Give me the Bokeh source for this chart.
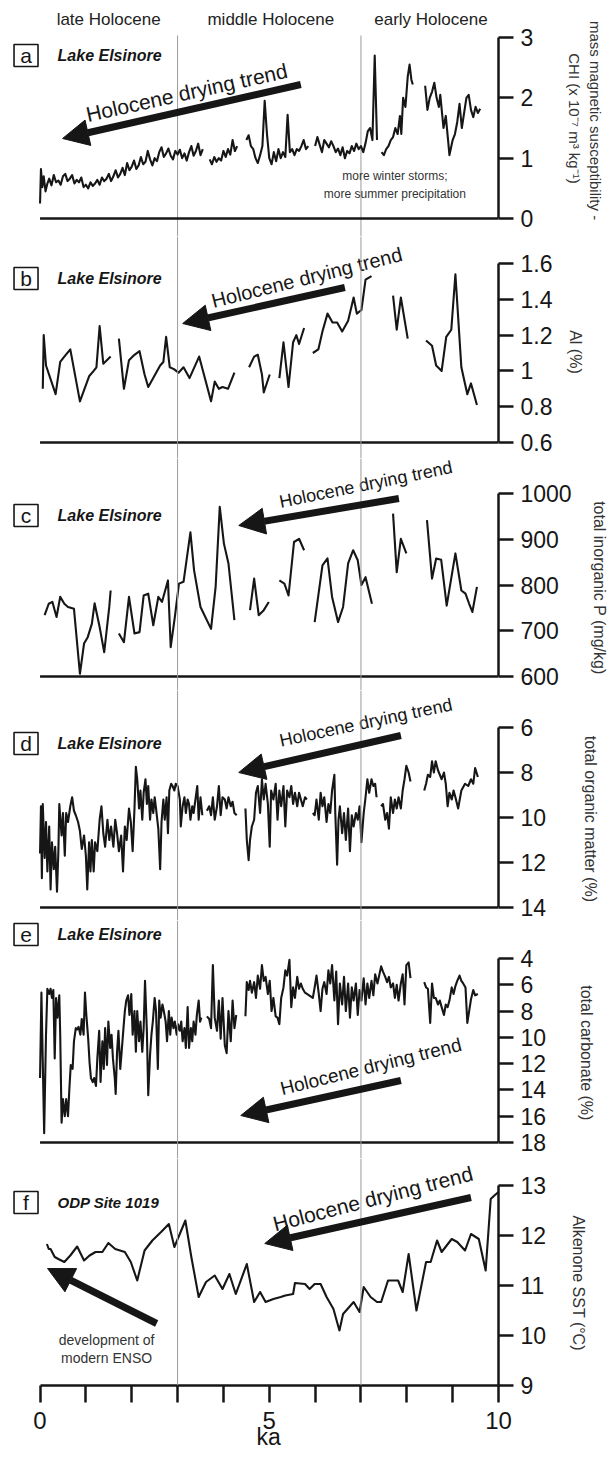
import math
from bokeh.plotting import figure
from bokeh.models import Range1d, FixedTicker, Span, Arrow, NormalHead, CustomJSTickFormatter
from bokeh.layouts import column
from bokeh.embed import file_html
from bokeh.resources import INLINE
from bokeh.core.properties import value

nan = float("nan")
NBSP = "\u00a0"

# ---------------- data (ka BP) ----------------
periods = ["late Holocene", "middle Holocene", "early Holocene"]
period_bounds = [3, 7]
ka_ticks = [0, 1, 2, 3, 4, 5, 6, 7, 8, 9, 10]

chi_ka = [0.0, 0.02, 0.05, 0.08, 0.12, 0.16, 0.2, 0.25, 0.3, 0.35, 0.4, 0.45, 0.5, 0.55, 0.6, 0.65, 0.7, 0.75,
          0.8, 0.85, 0.9, 0.95, 1.0, 1.05, 1.1, 1.15, 1.2, 1.25, 1.3, 1.35, 1.4, 1.45, 1.5, 1.55, 1.6, 1.65,
          1.7, 1.75, 1.8, 1.85, 1.9, 1.95, 2.0, 2.05, 2.1, 2.15, 2.2, 2.25, 2.3, 2.35, 2.4, 2.45, 2.5, 2.55,
          2.6, 2.65, 2.7, 2.75, 2.8, 2.85, 2.9, 2.95, 3.0, 3.05, 3.1, 3.15, 3.2, 3.25, 3.3, 3.35, 3.4, 3.45,
          3.5, 3.55, nan,
          3.7, 3.75, 3.8, 3.85, 3.9, 3.95, 4.0, 4.05, 4.1, 4.15, 4.2, 4.25, 4.3, nan,
          4.5, 4.55, 4.6, 4.65, 4.7, 4.75, 4.8, 4.85, 4.9, 4.95, 5.0, 5.05, 5.1, 5.15, 5.2, 5.25, 5.3, 5.35,
          5.4, 5.45, 5.5, 5.55, 5.6, 5.65, 5.7, 5.75, 5.8, 5.85, nan,
          6.0, 6.05, 6.1, 6.15, 6.2, 6.25, 6.3, 6.35, 6.4, 6.45, 6.5, 6.55, 6.6, 6.65, 6.7, 6.75, 6.8, 6.85,
          6.9, 6.95, 7.0, 7.05, 7.1, 7.15, 7.2, 7.25, 7.3, 7.35, nan,
          7.45, 7.5, 7.55, 7.6, 7.65, 7.7, 7.75, 7.8, 7.85, 7.88, 7.92, 7.97, 8.02, 8.06, 8.1, 8.13, nan,
          8.4, 8.45, 8.5, 8.55, 8.6, 8.65, 8.7, 8.73, 8.8, 8.85, 8.9, 8.93, 9.0, 9.05, 9.1, 9.15, 9.2, 9.25,
          9.3, 9.35, 9.4, 9.45, 9.5, 9.55, 9.6]
chi = [0.25, 0.82, 0.52, 0.7, 0.45, 0.58, 0.66, 0.55, 0.72, 0.6, 0.63, 0.56, 0.7, 0.74, 0.62, 0.66, 0.72, 0.58,
       0.64, 0.6, 0.68, 0.52, 0.56, 0.5, 0.6, 0.54, 0.58, 0.64, 0.56, 0.68, 0.62, 0.66, 0.74, 0.62, 0.7, 0.8,
       0.68, 0.74, 0.84, 0.72, 0.92, 0.8, 0.86, 0.96, 0.82, 0.88, 1.02, 0.9, 0.94, 1.12, 0.98, 0.88, 1.0, 0.95,
       1.1, 1.18, 1.02, 1.08, 1.16, 1.04, 0.98, 1.12, 1.06, 1.14, 1.0, 1.08, 0.96, 1.1, 1.2, 1.04, 1.12, 1.24,
       1.05, 1.15, nan,
       0.98, 0.9, 1.02, 0.94, 1.0, 0.96, 1.12, 1.02, 1.15, 1.06, 1.3, 1.12, 1.2, nan,
       1.3, 1.38, 1.2, 1.15, 1.0, 0.92, 1.05, 1.2, 1.95, 1.4, 1.0, 0.9, 1.1, 0.95, 1.15, 1.0, 1.1, 1.02,
       1.72, 1.1, 1.15, 1.05, 1.15, 1.12, 1.2, 1.3, 1.15, 1.2, nan,
       1.2, 1.35, 1.22, 1.1, 1.3, 1.24, 1.18, 1.28, 1.2, 1.1, 1.16, 1.05, 1.18, 1.0, 1.12, 1.08, 1.2, 1.12,
       1.24, 1.15, 1.2, 1.1, 1.25, 1.45, 1.5, 1.3, 2.7, 1.3, nan,
       1.1, 1.05, 1.15, 1.2, 1.3, 1.35, 1.5, 1.4, 1.7, 1.4, 2.0, 1.85, 2.35, 2.55, 2.3, 2.22, nan,
       2.2, 1.8, 2.0, 2.1, 2.25, 2.0, 1.85, 2.05, 1.5, 1.7, 1.3, 1.05, 1.3, 1.4, 1.6, 1.9, 1.5, 1.75,
       2.0, 2.05, 1.8, 1.68, 1.85, 1.75, 1.82]

al_ka = [0.06, 0.08, 0.13, 0.34, 0.44, 0.53, 0.66, 0.87, 1.07, 1.17, 1.23, 1.3, 1.38, 1.54, nan,
         1.72, 1.83, 1.94, 2.06, 2.17, 2.28, 2.36, 2.49, 2.62, 2.69, 2.75, 2.83, 2.92, 3.02, 3.13, 3.26,
         3.47, 3.73, 3.81, 3.9, 3.98, 4.1, 4.24, nan,
         4.56, 4.67, 4.75, 4.84, 4.88, 5.01, nan,
         5.22, 5.31, 5.42, 5.52, 5.59, 5.65, 5.76, nan,
         5.95, 6.07, 6.16, 6.27, 6.38, 6.48, 6.59, 6.72, 6.84, 6.91, 7.01, 7.1, 7.23, nan,
         7.7, 7.78, 7.87, 8.02, nan,
         8.42, 8.55, 8.64, 8.76, 8.86, 8.97, 9.06, 9.19, 9.32, 9.4, 9.53]
al = [0.9, 1.2, 1.03, 0.87, 1.05, 1.08, 1.12, 0.83, 0.97, 1.0, 1.02, 1.25, 1.04, 1.08, nan,
      1.18, 0.9, 1.06, 1.09, 1.11, 0.98, 0.91, 0.97, 1.03, 1.05, 1.19, 1.02, 1.01, 0.99, 1.02, 0.96,
      1.08, 0.83, 0.94, 0.9, 0.91, 0.9, 0.99, nan,
      1.02, 1.08, 1.09, 0.98, 0.88, 0.98, nan,
      0.96, 1.16, 0.91, 1.16, 1.2, 1.15, 1.24, nan,
      1.1, 1.12, 1.22, 1.32, 1.27, 1.27, 1.22, 1.28, 1.41, 1.32, 1.34, 1.51, 1.53, nan,
      1.42, 1.23, 1.41, 1.18, nan,
      1.17, 1.14, 1.03, 1.0, 1.19, 1.23, 1.54, 1.02, 0.87, 0.93, 0.81]

tip_ka = [0.1, 0.19, 0.27, 0.36, 0.44, 0.53, 0.61, 0.74, 0.87, 0.96, 1.04, 1.13, 1.19, 1.3, 1.4, 1.51, 1.54, nan,
          1.72, 1.83, 1.94, 2.06, 2.17, 2.26, 2.36, 2.47, 2.58, 2.66, 2.79, 2.85, 2.94, 3.03, 3.13, 3.28,
          3.36, 3.5, 3.73, 3.83, 3.92, 4.01, 4.11, 4.24, nan,
          4.58, 4.67, 4.77, 4.88, 4.99, nan,
          5.22, 5.33, 5.42, 5.54, 5.65, 5.76, nan,
          5.99, 6.16, 6.27, 6.37, 6.5, 6.61, 6.72, 6.83, 6.93, 7.01, 7.1, 7.24, nan,
          7.7, 7.78, 7.87, 7.99, nan,
          8.44, 8.55, 8.64, 8.75, 8.87, 9.06, 9.19, 9.28, 9.36, 9.43, 9.53]
tip = [734, 759, 763, 730, 774, 759, 752, 748, 606, 672, 686, 715, 760, 708, 653, 752, 788, nan,
       694, 675, 774, 694, 697, 777, 781, 712, 774, 763, 810, 664, 730, 803, 807, 915,
       832, 752, 704, 796, 971, 891, 847, 723, nan,
       745, 814, 734, 745, 763, nan,
       810, 803, 777, 894, 901, 876, nan,
       719, 843, 858, 774, 719, 752, 847, 876, 854, 800, 817, 759, nan,
       956, 828, 901, 869, nan,
       942, 814, 858, 855, 755, 869, 788, 781, 759, 741, 796]

tom_ka = [0.0, 0.02, 0.04, 0.06, 0.1, 0.13, 0.16, 0.2, 0.23, 0.26, 0.3, 0.33, 0.37, 0.4, 0.42, 0.47, 0.5, 0.54,
          0.57, 0.61, 0.66, 0.7, 0.74, 0.78, 0.83, 0.87, 0.91, 0.96, 1.0, 1.03, 1.07, 1.1, 1.13, 1.17, 1.2,
          1.25, 1.3, 1.34, 1.38, 1.42, 1.47, 1.51, 1.55, 1.6, 1.64, 1.68, 1.72, 1.77, 1.81, 1.85, 1.89, 1.94,
          1.98, 2.02, 2.06, 2.09, 2.12, 2.16, 2.19, 2.23, 2.26, 2.3, 2.33, 2.36, 2.4, 2.43, 2.47, 2.5, 2.53,
          2.58, 2.62, 2.65, 2.69, 2.72, 2.76, 2.79, 2.82, 2.86, 2.89, 2.93, 2.96, 3.0, 3.05, 3.07, 3.11, 3.15,
          3.18, 3.22, 3.25, 3.28, 3.32, 3.35, 3.39, 3.43, 3.46, 3.5, 3.54, nan,
          3.64, 3.69, 3.73, 3.77, 3.81, 3.86, 3.9, 3.94, 3.98, 4.03, 4.07, 4.11, 4.16, 4.2, 4.24, 4.29, nan,
          4.48, 4.51, 4.55, 4.58, 4.62, 4.67, 4.71, 4.75, 4.8, 4.84, 4.88, 4.92, 4.97, 5.01, 5.04, 5.09,
          5.14, 5.18, 5.22, 5.26, 5.31, 5.35, 5.39, 5.44, 5.48, 5.52, 5.56, 5.61, 5.65, 5.69, 5.73, 5.78,
          5.82, nan,
          5.95, 5.99, 6.03, 6.08, 6.12, 6.16, 6.2, 6.25, 6.29, 6.33, 6.37, 6.42, 6.44, 6.48, 6.51, 6.54,
          6.59, 6.63, 6.67, 6.72, 6.76, 6.8, 6.84, 6.89, 6.93, 6.97, 7.01, 7.06, 7.1, 7.14, 7.18, 7.23,
          7.27, 7.31, 7.34, nan,
          7.44, 7.48, 7.53, 7.57, 7.61, 7.65, 7.7, 7.74, 7.78, 7.82, 7.87, 7.91, 7.95, 7.99, 8.04, 8.08, nan,
          8.38, 8.42, 8.46, 8.51, 8.55, 8.59, 8.63, 8.68, 8.72, 8.76, 8.81, 8.85, 8.89, 8.93, 8.98, 9.02,
          9.06, 9.12, 9.19, 9.27, 9.34, 9.4, 9.45, 9.49, 9.55]
tom = [11.6, 9.5, 12.7, 9.4, 11.8, 10.2, 12.4, 10.4, 13.2, 11.1, 12.3, 11.3, 13.3, 11.5, 9.4, 10.8, 9.8, 11.7,
       9.8, 10.2, 9.5, 9.1, 9.7, 9.9, 10.2, 10.6, 11.4, 10.8, 11.7, 13.2, 11.1, 12.4, 11.0, 12.4, 11.1,
       11.5, 10.1, 9.5, 10.7, 11.3, 10.1, 11.0, 10.4, 11.3, 10.1, 10.7, 11.5, 10.8, 12.4, 10.4, 11.0, 9.6,
       10.2, 11.5, 9.6, 7.75, 8.3, 9.6, 8.8, 10.1, 8.9, 8.3, 9.4, 8.6, 10.1, 9.2, 9.8, 9.1, 9.6,
       10.5, 12.3, 10.2, 9.2, 10.1, 9.1, 10.7, 8.8, 8.5, 8.6, 8.8, 8.5, 8.6, 9.2, 10.4, 9.5, 9.1,
       9.8, 9.2, 9.4, 10.1, 9.5, 9.8, 9.2, 8.6, 10.1, 9.1, 9.9, nan,
       9.7, 9.5, 9.9, 9.1, 10.1, 9.5, 8.6, 9.9, 9.1, 9.2, 9.6, 9.1, 9.5, 9.3, 9.8, 9.9, nan,
       9.6, 11.0, 11.9, 11.0, 10.4, 10.1, 8.9, 8.6, 9.8, 8.3, 9.2, 8.5, 9.4, 11.3, 8.8, 9.2,
       8.5, 10.1, 8.8, 9.5, 8.6, 10.4, 8.8, 9.1, 8.6, 9.4, 8.9, 9.5, 8.9, 9.2, 9.5, 9.1,
       9.2, nan,
       9.8, 9.9, 9.2, 10.1, 8.9, 9.5, 9.1, 10.2, 9.4, 9.8, 8.8, 8.1, 9.8, 12.1, 10.1, 9.5,
       10.7, 9.8, 11.0, 9.6, 11.5, 9.9, 10.4, 9.8, 10.1, 9.5, 11.1, 9.8, 9.1, 8.3, 8.9, 8.3,
       8.6, 8.5, 9.1, nan,
       9.5, 9.4, 10.1, 9.8, 10.5, 9.1, 9.8, 9.2, 9.6, 9.1, 9.6, 8.8, 8.3, 7.7, 8.0, 8.4, nan,
       8.8, 8.5, 8.1, 8.2, 7.5, 8.0, 7.5, 7.9, 8.1, 8.3, 8.0, 8.5, 9.5, 8.9, 9.2, 8.8,
       9.1, 9.6, 8.8, 8.5, 8.6, 8.3, 8.5, 7.8, 8.2]

carb_ka = [0.0, 0.03, 0.09, 0.13, 0.16, 0.2, 0.23, 0.26, 0.29, 0.32, 0.35, 0.38, 0.42, 0.44, 0.47, 0.5, 0.54,
           0.57, 0.61, 0.64, 0.67, 0.71, 0.74, 0.78, 0.81, 0.84, 0.88, 0.91, 0.95, 0.98, 1.01, 1.05, 1.08,
           1.11, 1.15, 1.18, 1.22, 1.25, 1.29, 1.32, 1.36, 1.39, 1.42, 1.46, 1.49, 1.53, 1.56, 1.59, 1.63,
           1.65, 1.68, 1.71, 1.75, 1.78, 1.82, 1.85, 1.88, 1.92, 1.95, 1.99, 2.02, 2.06, 2.09, 2.12, 2.16,
           2.19, 2.23, 2.26, 2.29, 2.33, 2.36, 2.4, 2.43, 2.46, 2.5, 2.53, 2.57, 2.6, 2.63, 2.67, 2.7, 2.74,
           2.77, 2.81, 2.84, 2.87, 2.91, 2.94, 2.98, 3.01, 3.05, 3.08, 3.11, 3.15, 3.18, 3.22, 3.25, 3.29,
           3.32, 3.35, 3.39, 3.42, 3.46, 3.49, 3.52, nan,
           3.64, 3.69, 3.73, 3.77, 3.81, 3.86, 3.9, 3.94, 3.98, 4.03, 4.07, 4.11, 4.16, 4.2, 4.24, 4.28, nan,
           4.48, 4.51, 4.55, 4.58, 4.62, 4.67, 4.71, 4.75, 4.8, 4.84, 4.88, 4.92, 4.97, 5.01, 5.05, 5.09,
           5.14, 5.18, 5.22, 5.26, 5.31, 5.35, 5.39, 5.44, 5.48, 5.52, 5.56, 5.61, 5.65, 5.69, 5.73, 5.78,
           5.95, 5.99, 6.03, 6.08, 6.12, 6.16, 6.2, 6.25, 6.29, 6.33, 6.37, 6.42, 6.46, 6.5, 6.54, 6.59,
           6.63, 6.67, 6.72, 6.76, 6.8, 6.84, 6.89, 6.93, 6.97, 7.01, 7.06, 7.1, 7.14, 7.18, 7.23, 7.27,
           7.31, 7.36, 7.44, 7.48, 7.53, 7.57, 7.61, 7.65, 7.7, 7.74, 7.78, 7.82, 7.87, 7.91, 7.95, 7.99,
           8.04, 8.08, nan,
           8.38, 8.42, 8.46, 8.51, 8.55, 8.59, 8.63, 8.68, 8.72, 8.76, 8.81, 8.85, 8.89, 8.93, 8.98, 9.02,
           9.06, 9.1, 9.15, 9.19, 9.23, 9.28, 9.32, 9.36, 9.4, 9.45, 9.49, 9.55]
carb = [13.1, 6.6, 17.3, 9.8, 6.3, 6.7, 6.3, 7.0, 6.4, 11.6, 7.0, 8.5, 6.8, 9.8, 16.5, 14.7, 16.0,
        14.7, 16.0, 13.9, 12.1, 12.4, 10.3, 9.3, 9.4, 9.2, 9.8, 8.6, 9.8, 6.6, 8.3, 10.1, 11.9,
        13.1, 13.4, 13.1, 13.7, 11.6, 9.5, 13.4, 10.3, 12.4, 9.3, 12.1, 8.8, 10.8, 9.8, 11.6, 13.1,
        14.3, 11.1, 9.5, 12.4, 11.1, 9.3, 8.0, 7.2, 6.8, 8.3, 6.7, 9.8, 8.0, 11.1, 8.0, 10.3,
        8.8, 11.1, 9.3, 5.7, 9.5, 14.4, 11.3, 9.8, 8.8, 7.0, 8.0, 12.4, 7.2, 8.5, 7.5, 8.0, 8.8,
        10.3, 8.0, 9.8, 8.5, 9.3, 8.8, 9.8, 9.0, 9.5, 8.8, 10.3, 9.3, 10.8, 7.7, 10.8, 9.3,
        10.3, 8.8, 9.8, 8.3, 7.2, 8.8, 8.5, nan,
        8.4, 8.6, 9.3, 4.5, 8.5, 9.5, 7.2, 10.1, 7.0, 10.6, 11.2, 8.0, 10.3, 7.2, 9.3, 8.3, nan,
        8.4, 5.8, 6.4, 5.7, 6.6, 5.8, 7.0, 5.3, 6.3, 4.5, 5.7, 5.4, 6.7, 5.7, 8.0, 7.0,
        8.4, 8.5, 9.0, 7.0, 6.2, 4.9, 5.3, 4.1, 7.7, 6.2, 7.0, 5.4, 6.3, 5.9, 6.3, 6.6,
        7.0, 6.2, 5.3, 6.7, 8.0, 6.3, 5.8, 6.7, 4.9, 5.9, 4.5, 7.2, 5.0, 9.0, 5.9, 7.5,
        5.4, 8.0, 5.9, 8.5, 6.2, 7.2, 5.9, 8.3, 6.4, 7.2, 5.5, 7.5, 5.9, 7.0, 5.7, 6.8,
        5.2, 5.9, 4.6, 5.0, 5.4, 5.8, 5.4, 6.2, 5.9, 7.0, 6.0, 7.2, 5.9, 5.2, 7.5, 4.5,
        4.3, 5.5, nan,
        5.8, 6.2, 6.3, 8.9, 5.9, 7.0, 7.0, 7.5, 7.2, 7.7, 8.3, 7.5, 7.7, 7.2, 6.2, 6.7,
        6.1, 5.7, 5.3, 5.7, 5.9, 6.2, 8.9, 8.0, 7.1, 6.4, 6.8, 6.7]

sst_ka = [0.15, 0.19, 0.23, 0.32, 0.4, 0.53, 0.66, 0.81, 0.96, 1.08, 1.21, 1.36, 1.49, 1.64, 1.85, 1.98,
          2.12, 2.28, 2.45, 2.64, 2.81, 2.93, 3.17, 3.3, 3.46, 3.62, 3.81, 3.98, 4.13, 4.27, 4.51, 4.67,
          4.8, 4.92, 5.09, 5.25, 5.35, 5.52, 5.56, 5.78, 5.88, 5.99, 6.12, 6.25, 6.4, 6.53, 6.61, 6.84,
          6.97, 7.06, 7.21, 7.35, 7.44, 7.59, 7.81, 7.91, 8.04, 8.21, 8.42, 8.52, 8.66, 8.76, 8.98, 9.1,
          9.27, 9.4, 9.57, 9.72, 9.83, 9.91, 10.0]
sst = [11.83, 11.73, 11.73, 11.57, 11.53, 11.47, 11.6, 11.78, 11.5, 11.6, 11.67, 11.67, 11.85, 11.73, 11.67,
       11.47, 11.1, 11.7, 11.9, 12.07, 12.23, 11.77, 12.3, 11.57, 10.77, 11.07, 11.2, 10.93, 11.23, 10.83,
       11.43, 10.67, 10.87, 10.67, 10.73, 10.77, 10.8, 10.83, 11.05, 11.03, 10.93, 11.03, 11.03, 10.77,
       10.53, 10.1, 10.43, 10.67, 10.47, 10.97, 10.77, 10.67, 10.67, 11.1, 11.1, 10.87, 11.63, 10.5,
       11.47, 11.47, 11.9, 11.67, 11.93, 11.87, 11.7, 12.03, 11.93, 11.3, 12.73, 12.8, 12.87]

# ---------------- panel layout (page pixels; the bokeh page has no margin) ----------------
X0, PXK = 39.5, 45.8          # page x of 0 ka, pixels per ka
FRAME_W = 498
XR = (-X0 / PXK, 10.0)

panels = [
    dict(key="a", x=chi_ka, y=chi, lo=0, hi=3, plo=218, phi=37, top=0, bot=236,
         ticks=[0, 1, 2, 3], label="mass magnetic susceptibility -\nCHI (x 10\u207b\u2077 m\u00b3 kg\u207b\u00b9)",
         lab_off=30, lab_fs="15px", pad=1, site="Lake Elsinore"),
    dict(key="b", x=al_ka, y=al, lo=0.6, hi=1.6, plo=442, phi=263, top=236, bot=458,
         ticks=[0.6, 0.8, 1.0, 1.2, 1.4, 1.6], label="Al (%)", lab_off=12, lab_fs="16px", pad=2,
         site="Lake Elsinore"),
    dict(key="c", x=tip_ka, y=tip, lo=600, hi=1000, plo=676, phi=493, top=458, bot=690,
         ticks=[600, 700, 800, 900, 1000], label="total inorganic P (mg/kg)", lab_off=16, lab_fs="16px", pad=6,
         site="Lake Elsinore"),
    dict(key="d", x=tom_ka, y=tom, lo=14, hi=6, plo=907, phi=727, top=690, bot=920,
         ticks=[6, 8, 10, 12, 14], label="total organic matter (%)", lab_off=33, lab_fs="16px", pad=6,
         site="Lake Elsinore"),
    dict(key="e", x=carb_ka, y=carb, lo=18, hi=4, plo=1142, phi=958, top=920, bot=1158,
         ticks=[4, 6, 8, 10, 12, 14, 16, 18], label="total carbonate (%)", lab_off=29, lab_fs="16px", pad=6,
         site="Lake Elsinore"),
    dict(key="f", x=sst_ka, y=sst, lo=9, hi=13, plo=1385, phi=1185, top=1158, bot=1385,
         ticks=[9, 10, 11, 12, 13], label="Alkenone SST (\u00b0C)", lab_off=21, lab_fs="16px", pad=5,
         site="ODP Site 1019"),
]


def val(P, py):
    return P["lo"] + (py - P["plo"]) * (P["hi"] - P["lo"]) / (P["phi"] - P["plo"])


def ka(px):
    return (px - X0) / PXK


FONT = value("Liberation Sans")
INK = "#161616"

# annotations per panel: text centre px, angle deg, font, arrow tail px, arrow head px
trend = {
    "a": ((186, 92), 12.5, "21px", (300, 84), (62, 138)),
    "b": ((306, 277), 14, "20px", (344, 287), (182, 323)),
    "c": ((365, 484), 11.5, "18px", (398, 498), (238, 525)),
    "d": ((365, 722), 12, "18px", (400, 735), (238, 772)),
    "e": ((370, 1066), 14, "19px", (400, 1080), (240, 1115)),
    "f": ((372, 1198), 14.5, "21px", (470, 1197), (264, 1243)),
}
box_py = {"a": 55, "b": 278, "c": 515, "d": 743, "e": 934, "f": 1202}


def style_fig(p):
    p.grid.visible = False
    p.outline_line_color = None
    p.background_fill_color = "white"
    p.border_fill_color = "white"


def head():
    return NormalHead(size=26, fill_color=INK, line_color=INK, line_width=1)


figs = []
for P in panels:
    k = P["key"]
    last = k == "f"
    fh = P["bot"] - P["top"]
    p = figure(frame_width=FRAME_W, frame_height=fh, output_backend="svg", toolbar_location=None,
               x_range=Range1d(*XR), y_range=Range1d(val(P, P["bot"]), val(P, P["top"])),
               y_axis_location="right", x_axis_location="below" if last else None,
               min_border_left=0, min_border_right=0, min_border_top=0, min_border_bottom=0,
               title=None)
    style_fig(p)

    # period boundaries
    if k == "a":
        for b in period_bounds:
            p.segment(x0=b, y0=val(P, 35), x1=b, y1=val(P, P["bot"]), line_color="#9a9a9a", line_width=1)
        for name, cx in zip(periods, [108, 270, 430]):
            p.text(x=[ka(cx)], y=[val(P, 19)], text=[name], text_font=FONT, text_font_size="17px",
                   text_color="#222222", text_align="center", text_baseline="middle")
    else:
        for b in period_bounds:
            p.add_layout(Span(location=b, dimension="height", line_color="#9a9a9a", line_width=1))

    # baseline (the time axis itself closes the last panel)
    if not last:
        p.line(x=[0, 10], y=[P["lo"], P["lo"]], line_color=INK, line_width=2.5)

    # series
    p.line(x=P["x"], y=P["y"], line_color=INK, line_width=2.1, line_join="round")

    # trend text + arrow
    (tx, ty), ang, fs, (ax0, ay0), (ax1, ay1) = trend[k]
    p.text(x=[ka(tx)], y=[val(P, ty)], text=["Holocene drying trend"], angle=math.radians(ang),
           text_font=FONT, text_font_size=fs, text_color=INK, text_align="center", text_baseline="middle")
    p.add_layout(Arrow(end=head(), x_start=ka(ax0), y_start=val(P, ay0), x_end=ka(ax1), y_end=val(P, ay1),
                       line_color=INK, line_width=7))

    # panel letter box + site name
    by = val(P, box_py[k])
    p.rect(x=[ka(25.5)], y=[by], width=24, height=22, width_units="screen", height_units="screen",
           fill_color="white", line_color=INK, line_width=1.6)
    p.text(x=[ka(25.5)], y=[by], text=[k], text_font=FONT, text_font_size="21px", text_color=INK,
           text_align="center", text_baseline="middle")
    p.text(x=[ka(57)], y=[by], text=[P["site"]], text_font=FONT,
           text_font_size="15px" if last else "16px", text_font_style="bold italic", text_color=INK,
           text_align="left", text_baseline="middle")

    if k == "a":
        p.text(x=[ka(394), ka(394)], y=[val(P, 175), val(P, 193)],
               text=["more winter storms;", "more summer precipitation"], text_font=FONT,
               text_font_size="12px", text_color="#333333", text_align="center", text_baseline="middle")
    if last:
        p.add_layout(Arrow(end=head(), x_start=ka(156), y_start=val(P, 1323), x_end=ka(47), y_end=val(P, 1268),
                           line_color=INK, line_width=7))
        p.text(x=[ka(106), ka(106)], y=[val(P, 1339), val(P, 1357)],
               text=["development of", "modern ENSO"], text_font=FONT, text_font_size="14px",
               text_color="#333333", text_align="center", text_baseline="middle")

    # right axis
    ax = p.yaxis[0]
    ax.ticker = FixedTicker(ticks=P["ticks"])
    ax.formatter = CustomJSTickFormatter(code="return String(+tick.toFixed(2));")
    ax.bounds = (min(P["lo"], P["hi"]), max(P["lo"], P["hi"]))
    ax.axis_line_width = 2.5
    ax.axis_line_color = INK
    ax.major_tick_line_width = 2.5
    ax.major_tick_line_color = INK
    ax.major_tick_out = 15
    ax.major_tick_in = 0
    ax.minor_tick_line_color = None
    ax.major_label_text_font = "Liberation Sans"
    ax.major_label_text_font_size = "23px"
    ax.major_label_text_color = INK
    ax.major_label_standoff = 7
    ax.major_label_orientation = "horizontal"
    ax.axis_label = NBSP * P["pad"] + P["label"]
    ax.axis_label_text_font = "Liberation Sans"
    ax.axis_label_text_font_size = P["lab_fs"]
    ax.axis_label_text_font_style = "normal"
    ax.axis_label_text_color = "#333333"
    ax.axis_label_standoff = P["lab_off"]

    if last:
        xa = p.xaxis[0]
        xa.ticker = FixedTicker(ticks=ka_ticks)
        xa.formatter = CustomJSTickFormatter(code="return (tick % 5 === 0) ? String(tick) : '';")
        xa.bounds = (ka_ticks[0], ka_ticks[-1])
        xa.axis_line_width = 2.5
        xa.axis_line_color = INK
        xa.major_tick_line_width = 2.5
        xa.major_tick_line_color = INK
        xa.major_tick_out = 17
        xa.major_tick_in = 0
        xa.minor_tick_line_color = None
        xa.major_label_text_font = "Liberation Sans"
        xa.major_label_text_font_size = "24px"
        xa.major_label_text_color = INK
        xa.major_label_standoff = 9
        xa.axis_label = NBSP * 6 + "ka"
        xa.axis_label_text_font = "Liberation Sans"
        xa.axis_label_text_font_size = "23px"
        xa.axis_label_text_font_style = "normal"
        xa.axis_label_text_color = INK
        xa.axis_label_standoff = -8
    figs.append(p)

layout = column(*figs, spacing=0)
open("out.html", "w").write(file_html(layout, INLINE))
